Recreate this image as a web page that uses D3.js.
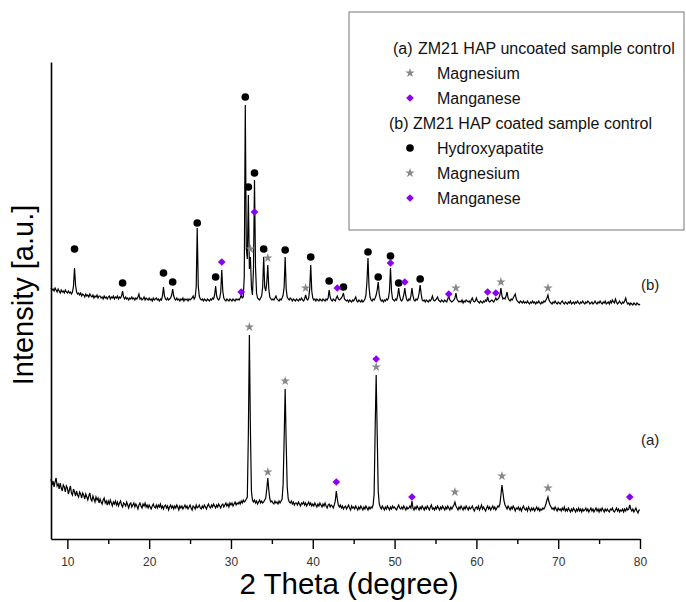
<!DOCTYPE html>
<html>
<head>
<meta charset="utf-8">
<script src="https://cdnjs.cloudflare.com/ajax/libs/d3/7.8.5/d3.min.js"></script>
<style>
  body { margin: 0; background: #fff; }
  svg { display: block; font-family: "Liberation Sans", Arial, sans-serif; }
</style>
</head>
<body>
<div id="chart"></div>
<script>
// step scan: one row per degree of 2 theta, 8 readings per row (0.125 deg step), a.u.
var scanStart = 8, scanStep = 0.125;

var countsB = [
  [251,249,250,248,251,249,247,250], // 8
  [248,246,249,247,248,246,249,247],
  [246,248,246,247,245,247,253,271], // 10
  [254,247,245,246,244,246,243,245],
  [244,242,245,243,244,242,245,243],
  [242,244,241,243,242,244,241,243],
  [243,241,242,240,243,241,242,240],
  [242,243,240,242,241,243,240,242], // 15
  [241,243,240,242,241,243,248,242],
  [240,242,240,241,239,241,240,242],
  [240,241,239,241,240,242,245,240],
  [241,239,240,242,239,241,240,239],
  [241,239,240,238,241,239,240,241], // 20
  [239,240,238,240,239,243,252,243],
  [240,239,241,239,240,241,244,250],
  [243,240,239,241,239,240,238,240],
  [239,241,238,240,239,240,238,240],
  [239,240,241,243,240,242,252,311], // 25
  [253,243,240,239,240,238,240,239],
  [238,240,239,238,240,239,241,240],
  [244,253,243,240,239,241,247,269],
  [248,241,239,238,240,239,238,240],
  [239,238,240,239,238,240,239,240], // 30
  [239,241,244,241,242,262,434,290],
  [280,344,270,282,252,244,270,359],
  [272,246,241,240,239,241,243,252],
  [282,252,248,256,274,250,242,240],
  [239,240,239,241,243,240,239,238], // 35
  [240,239,241,244,252,282,250,242],
  [240,239,241,240,238,240,239,238],
  [240,239,238,240,239,241,239,238],
  [240,244,240,239,241,250,274,248],
  [241,239,240,238,240,239,238,240], // 40
  [239,238,240,239,238,240,239,241],
  [249,242,239,238,240,239,238,241],
  [243,240,239,240,241,243,246,240],
  [239,238,239,237,239,238,237,239],
  [238,240,242,238,237,239,238,237], // 45
  [239,237,238,240,244,258,281,252],
  [242,239,238,240,239,241,244,249],
  [257,245,240,238,239,237,239,238],
  [240,239,241,248,271,248,240,239],
  [238,240,239,243,251,243,239,238], // 50
  [240,244,251,243,239,238,240,239],
  [243,251,243,239,238,240,239,241],
  [246,254,245,239,238,239,237,239],
  [238,237,239,238,240,243,239,238],
  [239,240,242,239,238,237,239,238], // 55
  [237,239,238,237,240,243,239,238],
  [237,238,239,241,246,240,238,237],
  [238,237,239,236,238,237,239,238],
  [237,238,236,239,241,238,237,238],
  [241,238,237,236,238,237,236,238], // 60
  [237,239,238,242,238,237,238,239],
  [238,237,239,241,239,240,241,244],
  [251,243,240,241,240,243,247,241],
  [239,238,240,239,241,243,245,240],
  [238,237,236,238,237,236,238,236], // 65
  [237,236,238,236,235,237,236,238],
  [236,237,235,237,236,238,236,235],
  [237,236,238,237,239,241,244,239],
  [237,236,235,237,236,238,236,235],
  [237,236,235,237,238,236,235,237], // 70
  [236,235,237,236,238,235,236,237],
  [235,237,236,238,236,235,237,236],
  [238,236,235,237,236,238,237,235],
  [236,237,235,236,238,236,235,237],
  [236,238,236,235,237,236,238,235], // 75
  [236,237,235,238,236,239,237,236],
  [240,237,235,236,238,236,235,237],
  [236,238,241,237,235,236,234,236],
  [235,234,236,235,234,236,235,234],
  [235] // 80
];

var countsA = [
  [60,54,58,52,57,61,53,55], // 8
  [50,56,51,48,54,52,47,53],
  [51,45,49,53,46,44,50,47], // 10
  [43,48,44,42,47,45,41,46],
  [44,40,45,42,39,43,46,40],
  [38,43,40,37,42,39,41,36],
  [40,37,35,39,41,36,38,34],
  [38,35,39,36,33,37,35,38], // 15
  [34,37,33,36,38,34,32,36],
  [35,33,37,34,31,35,36,32],
  [34,36,32,35,33,30,34,36],
  [33,31,35,33,36,32,34,31],
  [34,32,30,33,35,32,31,34], // 20
  [31,34,32,35,31,33,30,33],
  [34,31,33,29,32,34,31,33],
  [30,33,31,34,32,29,33,31],
  [33,30,32,34,31,33,30,32],
  [34,31,29,33,32,30,34,31], // 25
  [32,34,31,30,33,31,34,32],
  [30,33,35,32,31,34,32,35],
  [33,31,34,32,35,33,31,34],
  [35,32,34,36,33,35,32,36],
  [34,36,33,35,37,34,36,35], // 30
  [37,35,38,36,39,37,38,40],
  [42,105,204,110,48,39,37,39],
  [36,38,35,37,39,36,38,36],
  [37,39,41,50,61,49,40,37],
  [38,36,35,38,36,37,35,38], // 35
  [36,38,40,55,100,150,95,52],
  [40,37,36,38,35,37,34,36],
  [36,34,37,35,33,36,35,37],
  [34,36,33,35,37,34,36,33],
  [35,33,36,34,32,35,33,36], // 40
  [34,32,35,33,36,33,31,34],
  [35,32,34,33,31,34,38,48],
  [40,34,32,34,31,33,30,32],
  [33,30,32,34,31,29,33,31],
  [32,30,33,31,29,32,30,33], // 45
  [31,29,32,30,33,31,29,32],
  [30,32,31,34,45,110,164,105],
  [48,35,32,30,33,31,29,32],
  [30,33,31,29,32,30,33,31],
  [32,30,29,32,34,31,30,32], // 50
  [30,33,31,29,32,30,31,33],
  [31,38,31,29,32,30,33,31],
  [29,32,30,33,31,29,32,30],
  [33,31,29,32,34,30,31,29],
  [32,30,33,31,29,32,30,33], // 55
  [31,29,32,30,33,31,29,32],
  [30,32,34,37,33,31,29,32],
  [30,33,31,29,32,30,33,31],
  [29,32,30,31,33,30,28,31],
  [32,30,33,29,31,34,30,32], // 60
  [30,28,31,33,30,32,29,31],
  [33,30,32,29,31,33,32,35],
  [44,54,46,38,34,32,30,33],
  [31,29,32,30,33,31,28,31],
  [30,32,29,31,28,31,33,30], // 65
  [29,31,28,32,30,28,31,29],
  [31,28,30,32,29,31,28,30],
  [29,31,30,32,35,39,42,37],
  [34,32,30,31,29,32,30,28],
  [31,29,30,28,31,29,32,28], // 70
  [30,28,31,29,27,30,28,31],
  [29,27,30,28,31,28,30,27],
  [30,28,29,31,28,30,27,29],
  [31,28,30,27,29,31,28,30],
  [27,30,28,31,29,27,30,28], // 75
  [30,28,27,30,29,31,28,27],
  [29,31,28,30,27,29,28,30],
  [27,30,28,31,29,30,34,30],
  [28,30,27,29,31,28,26,29],
  [29] // 80
];

// phase markers [2 theta, intensity]
var hapB = [[10.875,290],[16.75,256],[21.75,266],[22.875,257],[25.875,316],[28.125,262],[31.75,442],
  [32.125,352],[32.875,366],[34.0,290],[36.625,289],[39.75,282],[42.0,258],[43.75,252],[46.75,287],
  [48.0,262],[49.5,283],[50.5,256],[53.125,260]];
var mgB = [[32.375,290],[34.5,281],[39.125,251],[57.5,251],[63.0,257],[68.75,251]];
var mnB = [[28.875,277],[31.25,247],[32.875,327],[43.0,251],[49.5,276],[51.25,257],[56.625,245],
  [61.375,247],[62.375,246]];
var mgA = [[32.25,212],[34.5,67],[36.625,158],[47.75,172],[57.375,47],[63.125,63],[68.75,51]];
var mnA = [[42.875,57],[47.75,180],[52.125,42],[78.75,42]];

var majorTicks = [10, 20, 30, 40, 50, 60, 70, 80];
var minorTicks = [15, 25, 35, 45, 55, 65, 75];

var legendRows = [
  { key: '(a)', label: 'ZM21 HAP uncoated sample control' },
  { sym: 'star', label: 'Magnesium' },
  { sym: 'diamond', label: 'Manganese' },
  { key: '(b)', label: 'ZM21 HAP coated sample control' },
  { sym: 'dot', label: 'Hydroxyapatite' },
  { sym: 'star', label: 'Magnesium' },
  { sym: 'diamond', label: 'Manganese' }
];

function toPoints(rows) {
  var pts = [];
  rows.forEach(function(row, r) {
    row.forEach(function(v, j) {
      pts.push([scanStart + r + j * scanStep, v]);
    });
  });
  return pts;
}

var W = 686, H = 602;
var purple = '#8a00f5', grey = '#888';

var svg = d3.select('#chart').append('svg')
  .attr('width', W).attr('height', H);

var x = d3.scaleLinear().domain([8, 80]).range([51, 640]);
var y = d3.scaleLinear().domain([0, 477]).range([539, 62]);

var line = d3.line()
  .x(function(d) { return x(d[0]); })
  .y(function(d) { return y(d[1]); });

svg.append('path').datum(toPoints(countsB))
  .attr('d', line).attr('fill', 'none')
  .attr('stroke', '#000').attr('stroke-width', 1.2);
svg.append('path').datum(toPoints(countsA))
  .attr('d', line).attr('fill', 'none')
  .attr('stroke', '#000').attr('stroke-width', 1.2);

function sym(type) {
  if (type == 'dot') return d3.symbol().type(d3.symbolCircle).size(46)();
  if (type == 'diamond') return d3.symbol().type(d3.symbolSquare).size(30)();
  return d3.symbol().type(d3.symbolStar).size(28)();
}
var fills = { dot: '#000', diamond: purple, star: grey };

function markers(data, type) {
  svg.append('g').selectAll('path')
    .data(data)
    .enter()
    .append('path')
    .attr('d', sym(type))
    .attr('fill', fills[type])
    .attr('transform', function(d) {
      return 'translate(' + x(d[0]) + ',' + y(d[1]) + ')' + (type == 'diamond' ? ' rotate(45)' : '');
    });
}
markers(hapB, 'dot');
markers(mgB, 'star');
markers(mnB, 'diamond');
markers(mgA, 'star');
markers(mnA, 'diamond');

// axes
var gx = svg.append('g').attr('transform', 'translate(0,' + y(0) + ')');
gx.call(d3.axisBottom(x).tickValues(majorTicks).tickSize(10).tickSizeOuter(0).tickPadding(8));
svg.append('g').attr('transform', 'translate(0,' + y(0) + ')')
  .call(d3.axisBottom(x).tickValues(minorTicks).tickSize(5).tickFormat(''))
  .select('.domain').remove();
var gy = svg.append('g').attr('transform', 'translate(' + x(8) + ',0)');
gy.call(d3.axisLeft(y).tickValues([]).tickSizeOuter(0));

svg.selectAll('.domain').attr('stroke', '#000').attr('stroke-width', 1.6);
svg.selectAll('.tick line').attr('stroke', '#000').attr('stroke-width', 1.4);
gx.selectAll('.tick text')
  .attr('font-family', '"Liberation Sans", Arial, sans-serif')
  .attr('font-size', '12px').attr('fill', '#333');

svg.append('text')
  .attr('x', 349).attr('y', 594)
  .attr('text-anchor', 'middle')
  .attr('font-size', '29.5px').attr('fill', '#000')
  .text('2 Theta (degree)');

svg.append('text')
  .attr('transform', 'translate(33,295) rotate(-90)')
  .attr('text-anchor', 'middle')
  .attr('font-size', '29px').attr('fill', '#000')
  .text('Intensity [a.u.]');

svg.append('text').attr('x', 641).attr('y', 290)
  .attr('font-size', '15px').attr('fill', '#222').text('(b)');
svg.append('text').attr('x', 641).attr('y', 445)
  .attr('font-size', '15px').attr('fill', '#222').text('(a)');

// legend
var lg = svg.append('g');
lg.append('rect')
  .attr('x', 349).attr('y', 12).attr('width', 335).attr('height', 218)
  .attr('fill', '#fff').attr('stroke', '#777').attr('stroke-width', 1);

legendRows.forEach(function(r, i) {
  var cy = 48 + i * 25;
  if (r.key) {
    lg.append('text').attr('x', r.key == '(a)' ? 393 : 389).attr('y', cy + 6)
      .attr('font-size', '16px').attr('fill', '#111').text(r.key);
    lg.append('text').attr('x', r.key == '(a)' ? 418 : 413).attr('y', cy + 6)
      .attr('font-size', '16px').attr('fill', '#111').text(r.label);
  } else {
    lg.append('path')
      .attr('d', sym(r.sym))
      .attr('fill', fills[r.sym])
      .attr('transform', 'translate(410,' + cy + ')' + (r.sym == 'diamond' ? ' rotate(45)' : ''));
    lg.append('text').attr('x', 437).attr('y', cy + 6)
      .attr('font-size', '16px').attr('fill', '#111').text(r.label);
  }
});
</script>
</body>
</html>
